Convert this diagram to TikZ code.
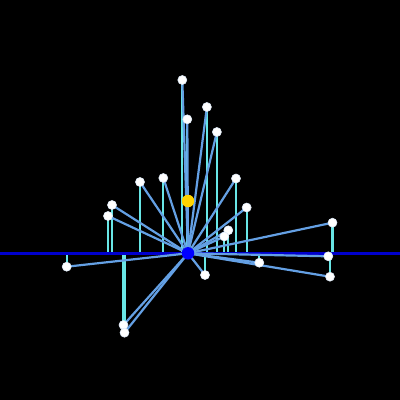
\documentclass[tikz,border=0pt]{standalone}
\definecolor{spoke}{RGB}{100,160,228}
\definecolor{drop}{RGB}{104,230,230}
\definecolor{axisblue}{RGB}{0,0,205}
\definecolor{gold}{RGB}{255,212,0}
\begin{document}
\begin{tikzpicture}[x=1pt,y=-1pt,line cap=round]
  \tikzstyle{dot}=[circle,fill=white,draw=white!80!spoke,line width=0.6pt,minimum size=9pt,inner sep=0pt]
  \tikzstyle{hub}=[circle,minimum size=12.5pt,inner sep=0pt]
  \fill[black] (0,0) rectangle (400,400);
  \useasboundingbox (0,0) rectangle (400,400);
  \coordinate (O) at (188,253.3);
  \coordinate (L) at (0,253.3);
  \coordinate (R) at (400,253.3);
  \coordinate (P1) at (182.3,80);
  \coordinate (P2) at (187.3,119.3);
  \coordinate (P3) at (206.9,107);
  \coordinate (P4) at (216.9,132);
  \coordinate (P5) at (140,182);
  \coordinate (P6) at (163.3,178);
  \coordinate (P7) at (236,178.5);
  \coordinate (P8) at (112,205);
  \coordinate (P9) at (108,216);
  \coordinate (P10) at (246.7,207.5);
  \coordinate (P11) at (228.3,230.3);
  \coordinate (P12) at (224.3,236.5);
  \coordinate (P13) at (332.5,222.7);
  \coordinate (P14) at (328.3,256.3);
  \coordinate (P15) at (259.3,262.7);
  \coordinate (P16) at (205,275);
  \coordinate (P17) at (330,276.7);
  \coordinate (P18) at (66.7,266.7);
  \coordinate (P19) at (123.5,325);
  \coordinate (P20) at (124.5,332.7);
  % drops to the axis
  \foreach \i in {1,...,20}
    \draw[drop,line width=2.2pt] (P\i) -- (P\i |- O);
  \draw[axisblue,line width=3pt] (L) -- (R);
  % spokes from the hub
  \foreach \i in {1,...,20}
    \draw[spoke,line width=2.2pt] (O) -- (P\i);
  \foreach \i in {1,...,20}
    \node[dot] (D\i) at (P\i) {};
  \node[hub,fill=blue] (hub) at (O) {};
  \node[hub,fill=gold] (mean) at (188,201) {};
\end{tikzpicture}
\end{document}
